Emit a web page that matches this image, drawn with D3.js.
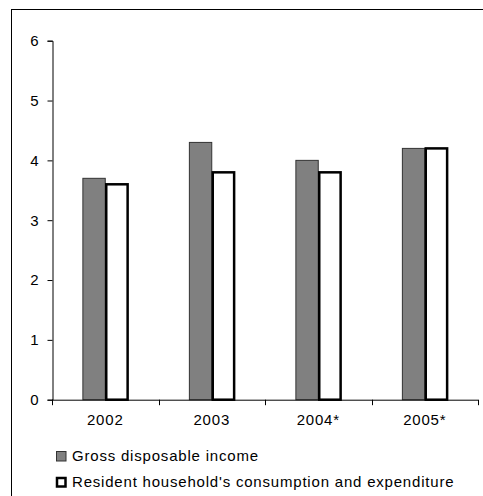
<!DOCTYPE html>
<html>
<head>
<meta charset="utf-8">
<script src="https://cdn.jsdelivr.net/npm/d3@7"></script>
<style>
  body { margin: 0; background: #fff; }
  text { font-family: Arial, "Liberation Sans", sans-serif; font-size: 15px; letter-spacing: 0.8px; fill: #000; }
</style>
</head>
<body>
<script>
var years = ["2002", "2003", "2004*", "2005*"];
var income = [3.7, 4.3, 4.0, 4.2];
var consumption = [3.6, 3.8, 3.8, 4.2];
var yTicks = [0, 1, 2, 3, 4, 5, 6];
var seriesNames = ["Gross disposable income", "Resident household's consumption and expenditure"];

var width = 483,
    height = 496;

var svg = d3.select("body").append("svg")
    .attr("width", width)
    .attr("height", height);

// outer frame (right and bottom edges fall outside the picture)
svg.append("rect")
    .attr("x", 11.5).attr("y", 9.5)
    .attr("width", 480).attr("height", 500)
    .attr("fill", "none").attr("stroke", "#000").attr("stroke-width", 1);

var x0 = d3.scaleBand().domain(years).range([52, 478]);
var x1 = d3.scaleBand().domain([0, 1]).range([0, x0.bandwidth()]).paddingInner(0).paddingOuter(1.38);
var y = d3.scaleLinear().domain([0, 6]).range([399.7, 40.7]);

// bars
var groups = svg.selectAll("g.year")
    .data(years)
  .enter().append("g")
    .attr("class", "year")
    .attr("transform", function(d) { return "translate(" + x0(d) + ",0)"; });

groups.append("rect")
    .attr("x", x1(0))
    .attr("y", function(d, i) { return y(income[i]); })
    .attr("width", x1.bandwidth())
    .attr("height", function(d, i) { return y(0) - y(income[i]); })
    .attr("fill", "#808080")
    .attr("stroke", "#333")
    .attr("stroke-width", 1);

groups.append("rect")
    .attr("x", x1(1) + 1)
    .attr("y", function(d, i) { return y(consumption[i]); })
    .attr("width", x1.bandwidth() - 1)
    .attr("height", function(d, i) { return y(0) - y(consumption[i]); })
    .attr("fill", "#fff")
    .attr("stroke", "#000")
    .attr("stroke-width", 2.5);

// y axis
var yAxis = svg.append("g")
    .attr("transform", "translate(52.5,0)")
    .call(d3.axisLeft(y).tickValues(yTicks).tickSize(5).tickPadding(8).tickFormat(d3.format("d")));
yAxis.selectAll("text").style("font-size", "15px");

// x axis
var xAxis = svg.append("g")
    .attr("transform", "translate(0," + (y(0) + 0.5) + ")")
    .call(d3.axisBottom(x0).tickSize(0).tickPadding(14));
xAxis.select(".domain").remove();
svg.append("line")
    .attr("x1", 52).attr("x2", 478)
    .attr("y1", y(0) + 0.5).attr("y2", y(0) + 0.5)
    .attr("stroke", "#000");
svg.selectAll("line.xt")
    .data(years.concat(["end"]))
  .enter().append("line")
    .attr("class", "xt")
    .attr("x1", function(d, i) { return Math.round(52 + i * x0.step()) + 0.5; })
    .attr("x2", function(d, i) { return Math.round(52 + i * x0.step()) + 0.5; })
    .attr("y1", y(0)).attr("y2", y(0) + 5.5)
    .attr("stroke", "#000");
xAxis.selectAll("text").style("font-size", "15px");

// legend
var legend = svg.selectAll("g.legend")
    .data(seriesNames)
  .enter().append("g")
    .attr("class", "legend")
    .attr("transform", function(d, i) { return "translate(56," + (451 + i * 26) + ")"; });

legend.append("rect")
    .attr("x", function(d, i) { return i ? 1 : 0.5; })
    .attr("y", function(d, i) { return i ? 1 : 0.5; })
    .attr("width", function(d, i) { return i ? 8.5 : 9.5; })
    .attr("height", function(d, i) { return i ? 8.5 : 9.5; })
    .attr("fill", function(d, i) { return i ? "#fff" : "#808080"; })
    .attr("stroke", function(d, i) { return i ? "#000" : "#333"; })
    .attr("stroke-width", function(d, i) { return i ? 2.5 : 1; });

legend.append("text")
    .attr("x", 16)
    .attr("y", 9.5)
    .text(function(d) { return d; });
</script>
</body>
</html>
